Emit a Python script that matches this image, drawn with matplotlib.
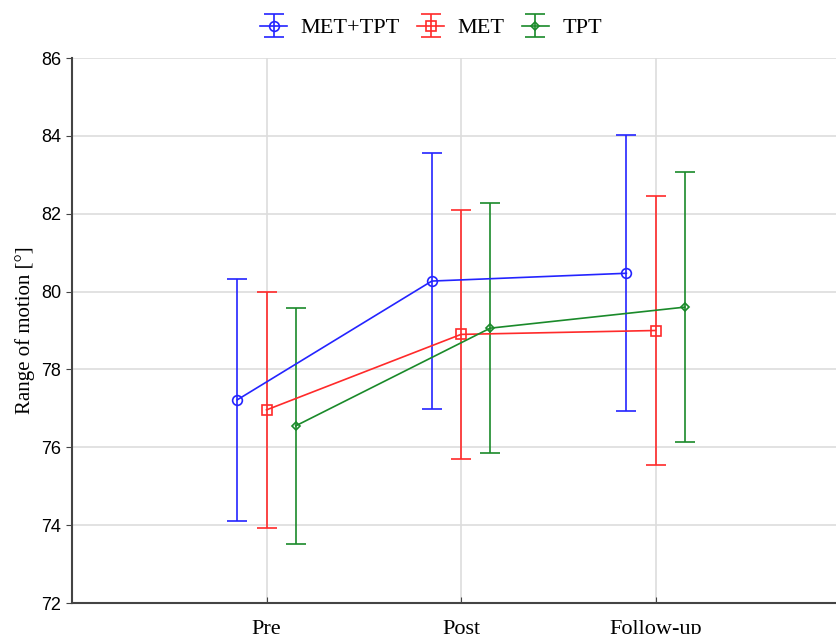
import numpy as np
import matplotlib
matplotlib.use('Agg')
import matplotlib.pyplot as plt

# data
phases = ['Pre', 'Post', 'Follow-up']
groups = ['MET+TPT', 'MET', 'TPT']

met_tpt_mean = [77.22, 80.27, 80.47]
met_tpt_low = [74.11, 76.98, 76.93]
met_tpt_high = [80.33, 83.55, 84.02]

met_mean = [76.96, 78.90, 79.00]
met_low = [73.92, 75.69, 75.55]
met_high = [80.00, 82.10, 82.45]

tpt_mean = [76.55, 79.06, 79.60]
tpt_low = [73.52, 75.86, 76.14]
tpt_high = [79.58, 82.27, 83.06]

colors = ['#2424ff', '#ff2a2a', '#1a8a2a']
markers = ['o', 's', 'D']
msizes = [7, 7, 4.5]
offsets = [-0.15, 0.0, 0.15]

means = [met_tpt_mean, met_mean, tpt_mean]
lows = [met_tpt_low, met_low, tpt_low]
highs = [met_tpt_high, met_high, tpt_high]

fig = plt.figure(figsize=(8.37, 6.34), dpi=100)
ax = fig.add_axes([72 / 837, 31 / 634, 778 / 837, 545 / 634])

x = np.arange(len(phases))
for i, g in enumerate(groups):
    m = np.array(means[i])
    lo = m - np.array(lows[i])
    hi = np.array(highs[i]) - m
    ax.errorbar(x + offsets[i], m, yerr=[lo, hi], color=colors[i], lw=1.2,
                elinewidth=1.2, capsize=7, capthick=1.2, marker=markers[i],
                ms=msizes[i], mfc='none', mew=1.2, label=g)

ax.set_xlim(-1, 3)
ax.set_ylim(72, 86)
ax.set_yticks(np.arange(72, 87, 2))
ax.set_xticks(x)
ax.set_xticklabels(phases, family='Liberation Serif', fontsize=16)
for lab in ax.get_yticklabels():
    lab.set_family('Liberation Sans')
    lab.set_fontsize(13)
ax.tick_params(axis='x', direction='in', length=4, pad=12, color='#444444')
ax.tick_params(axis='y', direction='out', length=4, pad=4, color='#444444')

ax.grid(True, color='#dddddd', lw=1.2)
ax.set_axisbelow(True)
for s in ['top', 'right']:
    ax.spines[s].set_visible(False)
for s in ['left', 'bottom']:
    ax.spines[s].set_color('#444444')
    ax.spines[s].set_linewidth(1.5)

ax.set_ylabel('Range of motion [°]', family='Liberation Serif', fontsize=15, labelpad=4)

# legend centred above the plot
fig.legend(loc='center', bbox_to_anchor=(431 / 837, 1 - 28 / 634), ncol=3, frameon=False,
           prop={'family': 'Liberation Serif', 'size': 16}, handlelength=1.2,
           columnspacing=0.8, handletextpad=0.6, borderpad=0.1)

fig.savefig('out.png', dpi=100)
